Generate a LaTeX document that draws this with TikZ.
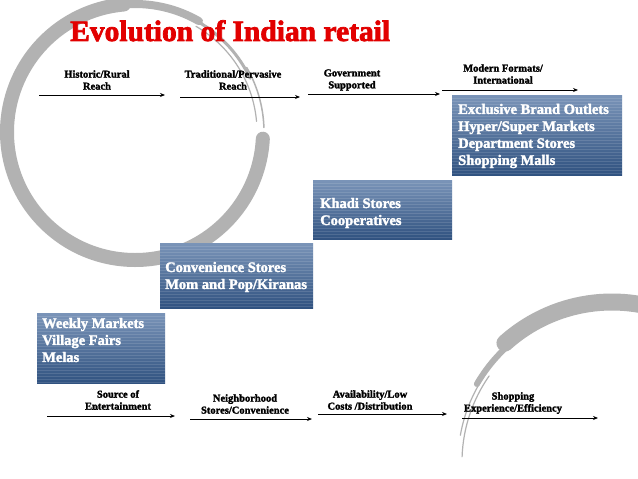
\documentclass[tikz,border=0pt]{standalone}
\usepackage{fontspec}
\setmainfont{Liberation Serif}
\newfontfamily\heavy[FakeBold=2]{Liberation Serif}
\newfontfamily\heavytitle[FakeBold=2.5]{Liberation Serif}
\usetikzlibrary{arrows.meta}
\definecolor{titlered}{RGB}{226,0,0}
\definecolor{boxtop}{RGB}{122,148,184}
\definecolor{boxbot}{RGB}{48,82,128}
\definecolor{brush}{RGB}{178,178,178}
\tikzset{
  gbrush/.style={draw=brush, line cap=round},
  arr/.style={draw=black, line width=0.9pt, -{Stealth[length=5pt,width=4pt]}},
  lbl/.style={align=center, inner sep=0pt, font=\heavy\bfseries\fontsize{10.5}{12}\selectfont},
  boxtxt/.style={align=left, inner sep=0pt, text=white, font=\heavy\bfseries\fontsize{14.5}{17}\selectfont},
  blbox/.style={draw=none, inner sep=0pt, anchor=north west, top color=boxtop, bottom color=boxbot,
    path picture={\foreach \k in {1,...,30}{\draw[white,opacity=0.12,line width=1pt]
      ([yshift=-3*\k pt]path picture bounding box.north west) -- ([yshift=-3*\k pt]path picture bounding box.north east);}}},
}
\begin{document}
\begin{tikzpicture}[x=1pt,y=-1pt]
\fill[white] (0,0) rectangle (638,479);
\useasboundingbox (0,0) rectangle (638,479);
% brush circle 1
\draw[gbrush, line width=14pt] ([shift={(3:128)}]135,132) arc[start angle=3, end angle=265, radius=128];
\draw[gbrush, line width=8pt] ([shift={(265:128)}]135,132) arc[start angle=265, end angle=300, radius=128];
\draw[gbrush, line width=3pt] ([shift={(300:127)}]135,132) arc[start angle=300, end angle=335, radius=127];
\draw[gbrush, line width=1.2pt] ([shift={(300:122)}]135,132) arc[start angle=300, end angle=355, radius=122];
\draw[gbrush, line width=1.5pt] ([shift={(330:129)}]135,132) arc[start angle=330, end angle=358, radius=129];
% brush circle 2
\draw[gbrush, line width=1.2pt] ([shift={(182:150)}]612,462) arc[start angle=182, end angle=215, radius=150];
\draw[gbrush, line width=1.2pt] ([shift={(190:154)}]612,462) arc[start angle=190, end angle=220, radius=154];
\draw[gbrush, line width=6pt] ([shift={(210:156)}]612,462) arc[start angle=210, end angle=232, radius=156];
\draw[gbrush, line width=17pt] ([shift={(228:160)}]612,462) arc[start angle=228, end angle=295, radius=160];
% title
\node[anchor=base west, inner sep=0pt, text=titlered, font=\heavytitle\bfseries\fontsize{29.5}{32}\selectfont] (title) at (70,41) {Evolution of Indian retail};
% top labels and arrows
\node[lbl] (l1) at (97,80) {Historic/Rural\\Reach};
\coordinate (a1s) at (39,95); \coordinate (a1e) at (165,95);
\draw[arr] (a1s) -- (a1e);
\node[lbl] (l2) at (233,80) {Traditional/Pervasive\\Reach};
\coordinate (a2s) at (180,97); \coordinate (a2e) at (300,97);
\draw[arr] (a2s) -- (a2e);
\node[lbl] (l3) at (352,80) {Government\\Supported};
\coordinate (a3s) at (308,94); \coordinate (a3e) at (440,94);
\draw[arr] (a3s) -- (a3e);
\node[lbl] (l4) at (503,74) {Modern Formats/\\International};
\coordinate (a4s) at (442,90); \coordinate (a4e) at (578,90);
\draw[arr] (a4s) -- (a4e);
% boxes
\node[blbox, minimum width=170pt, minimum height=80pt] (b1) at (452,95) {};
\node[boxtxt, anchor=west] (t1) at (458,136) {Exclusive Brand Outlets\\Hyper/Super Markets\\Department Stores\\Shopping Malls};
\node[blbox, minimum width=139pt, minimum height=59pt] (b2) at (313,180) {};
\node[boxtxt, anchor=west] (t2) at (320,213) {Khadi Stores\\Cooperatives};
\node[blbox, minimum width=153pt, minimum height=65pt] (b3) at (160,243) {};
\node[boxtxt, anchor=west] (t3) at (165,277) {Convenience Stores\\Mom and Pop/Kiranas};
\node[blbox, minimum width=128pt, minimum height=70pt] (b4) at (37,313) {};
\node[boxtxt, anchor=west] (t4) at (42,340) {Weekly Markets\\Village Fairs\\Melas};
% bottom labels and arrows
\node[lbl] (m1) at (118,400) {Source of\\Entertainment};
\coordinate (c1s) at (47,416); \coordinate (c1e) at (175,416);
\draw[arr] (c1s) -- (c1e);
\node[lbl] (m2) at (245,404) {Neighborhood\\Stores/Convenience};
\coordinate (c2s) at (190,419); \coordinate (c2e) at (312,419);
\draw[arr] (c2s) -- (c2e);
\node[lbl] (m3) at (370,400) {Availability/Low\\Costs /Distribution};
\coordinate (c3s) at (318,414); \coordinate (c3e) at (447,414);
\draw[arr] (c3s) -- (c3e);
\node[lbl] (m4) at (513,403) {Shopping\\Experience/Efficiency};
\coordinate (c4s) at (462,418); \coordinate (c4e) at (598,418);
\draw[arr] (c4s) -- (c4e);
\end{tikzpicture}
\end{document}
